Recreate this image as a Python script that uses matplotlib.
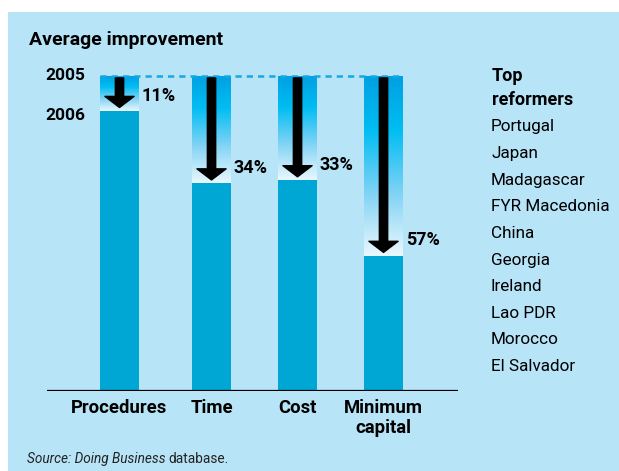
import matplotlib
matplotlib.use("Agg")
import matplotlib.pyplot as plt
import numpy as np
from matplotlib.colors import LinearSegmentedColormap
from matplotlib.patches import Rectangle

# ---------- datos ----------
categories = ["Procedures", "Time", "Cost", "Minimum\ncapital"]
improvement = [11, 34, 33, 57]          # % de mejora 2005 -> 2006
reformers = ["Portugal", "Japan", "Madagascar", "FYR Macedonia", "China",
             "Georgia", "Ireland", "Lao PDR", "Morocco", "El Salvador"]

# ---------- estilo ----------
BG = "#B8E4F8"
BAR = "#00A6D4"
DASH = "#16A8E1"
plt.rcParams["font.family"] = ["Roboto", "DejaVu Sans"]

W, H = 619, 471
fig = plt.figure(figsize=(W / 100, H / 100), dpi=100, facecolor="white")
fig.patches.append(Rectangle((8 / W, 0), 1, (H - 12) / H, transform=fig.transFigure,
                             facecolor=BG, edgecolor="none", zorder=-10))

def fx(px):
    return px / W

def fy(py):
    return 1 - py / H

# ejes: base en y=391 px, 2005 (=100) en y=76 px
ax = fig.add_axes([fx(47), fy(391), fx(458 - 47), fy(76) - fy(391)])
ax.set_facecolor("none")
for s in ax.spines.values():
    s.set_visible(False)
ax.set_xticks([])
ax.set_yticks([])

xpos = [0, 1.07, 2.07, 3.07]
bw = 0.453
x0, x1 = -0.843, 3.936

grad = LinearSegmentedColormap.from_list(
    "g", [(0, "#00A0E2"), (0.3, "#00BDF2"), (0.65, "#80D3F5"), (1.0, "#EAF8FE")])
col = np.linspace(0, 1, 256).reshape(-1, 1)

for x, v, cat in zip(xpos, improvement, categories):
    top = 100 - v
    ax.bar(x, top, width=bw, color=BAR, zorder=2)
    ax.imshow(col, cmap=grad, aspect="auto", origin="upper",
              extent=[x - bw / 2, x + bw / 2, top, 100], zorder=2)
    ax.annotate("", xy=(x, top + 1.0), xytext=(x, 99.4),
                arrowprops=dict(arrowstyle="simple,head_length=8,head_width=21,tail_width=6",
                                mutation_scale=1, color="black", shrinkA=0, shrinkB=0),
                zorder=4)
    ax.text(x + bw / 2 + 0.03, top + 4.8, f"{v}%", ha="left", va="center",
            fontsize=13, fontweight="bold")
    ax.text(x, -2.4, cat, ha="center", va="top",
            fontsize=13.3, fontweight="bold", linespacing=1.15)

ax.set_xlim(x0, x1)
ax.set_ylim(0, 100)
ax.axhline(0, color="black", lw=1.6, zorder=3)
ax.plot([-0.23, xpos[-1] + bw / 2], [100, 100], ls=(0, (2.5, 2)), color=DASH,
        lw=1.8, clip_on=False, zorder=3)

# textos
fig.text(fx(29), fy(40), "Average improvement", fontsize=14, fontweight="bold", va="center")
fig.text(fx(85), fy(76), "2005", fontsize=12.5, fontweight="bold", va="center", ha="right")
fig.text(fx(85), fy(115), "2006", fontsize=12.5, fontweight="bold", va="center", ha="right")
fig.text(fx(492), fy(76), "Top", fontsize=13, fontweight="bold", va="center")
fig.text(fx(492), fy(100), "reformers", fontsize=13, fontweight="bold", va="center")
for i, name in enumerate(reformers):
    fig.text(fx(491), fy(127 + i * 26.6), name, fontsize=12.3, va="center")

t = fig.text(fx(27), fy(459), "Source: Doing Business", fontsize=9.8, style="italic",
             va="center", color="#222222")
fig.canvas.draw()
bb = t.get_window_extent()
fig.text(bb.x1 / W + 0.005, fy(459), "database.", fontsize=9.8, va="center", color="#222222")

fig.savefig("out.png", dpi=100, facecolor="white")
